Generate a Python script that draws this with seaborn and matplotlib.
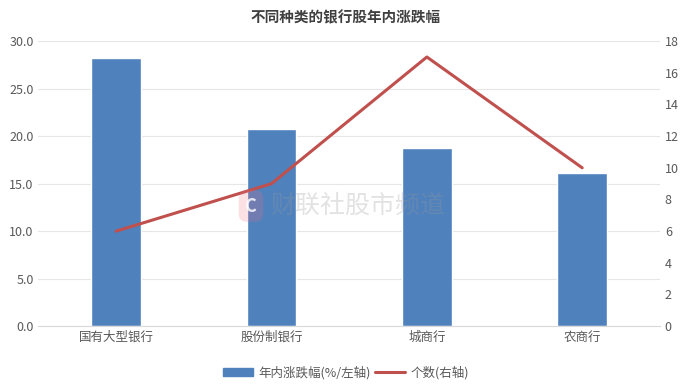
import pandas as pd
import seaborn as sns
import matplotlib.pyplot as plt
from matplotlib.patches import Patch
from matplotlib.lines import Line2D

categories = ['国有大型银行', '股份制银行', '城商行', '农商行']
change_pct = [28.2, 20.8, 18.8, 16.1]
counts = [6, 9, 17, 10]

df = pd.DataFrame({'类别': categories, '涨跌幅': change_pct, '个数': counts})

sns.set_style('white')
plt.rcParams['font.family'] = ['Noto Sans CJK SC', 'DejaVu Sans']

fig = plt.figure(figsize=(6.92, 3.92), dpi=100)
ax = fig.add_axes([0.0556, 0.168, 0.898, 0.727])

sns.barplot(data=df, x='类别', y='涨跌幅', color='#4F81BD', width=0.32, saturation=1, ax=ax, zorder=2)
ax.set_ylim(0, 30)
ax.set_yticks(range(0, 31, 5))
ax.set_yticklabels([f'{v:.1f}' for v in range(0, 31, 5)])
ax.grid(axis='y', color='#E6E6E6', linewidth=0.8, zorder=0)
ax.set_axisbelow(True)
ax.set_xlabel('')
ax.set_ylabel('')
for s in ['top', 'right', 'left']:
    ax.spines[s].set_visible(False)
ax.spines['bottom'].set_color('#D9D9D9')
ax.tick_params(axis='both', colors='#595959', labelsize=9, length=0)

ax2 = ax.twinx()
sns.lineplot(x=list(range(len(categories))), y=counts, color='#C0504D', linewidth=2.2, ax=ax2)
ax2.set_ylim(0, 18)
ax2.set_yticks(range(0, 19, 2))
for s in ax2.spines.values():
    s.set_visible(False)
ax2.tick_params(axis='y', colors='#595959', labelsize=9, length=0)
ax.set_xlim(-0.5, 3.5)

fig.text(0.5, 0.955, '不同种类的银行股年内涨跌幅', ha='center', va='center',
         fontsize=10.5, fontweight='bold', color='#404040')

# watermark
fig.text(251 / 692, 1 - 206 / 392, 'C', ha='center', va='center', fontsize=13, fontweight='bold',
         color=(1, 1, 1, 0.8), zorder=10,
         bbox=dict(boxstyle='round,pad=0.35,rounding_size=0.45', fc=(0.93, 0.45, 0.52, 0.22), ec='none'))
fig.text(358 / 692, 1 - 206 / 392, '财联社股市频道', ha='center', va='center', fontsize=18,
         color='#9A9A9A', alpha=0.28, zorder=10)

handles = [Patch(color='#4F81BD'), Line2D([0], [0], color='#C0504D', linewidth=2.2)]
fig.legend(handles, ['年内涨跌幅(%/左轴)', '个数(右轴)'], loc='center', bbox_to_anchor=(0.5, 0.05),
           ncol=2, frameon=False, fontsize=9, handlelength=2.4, handleheight=0.6,
           columnspacing=0.4, handletextpad=0.4, labelcolor='#595959')

fig.savefig('out.png', dpi=100)
